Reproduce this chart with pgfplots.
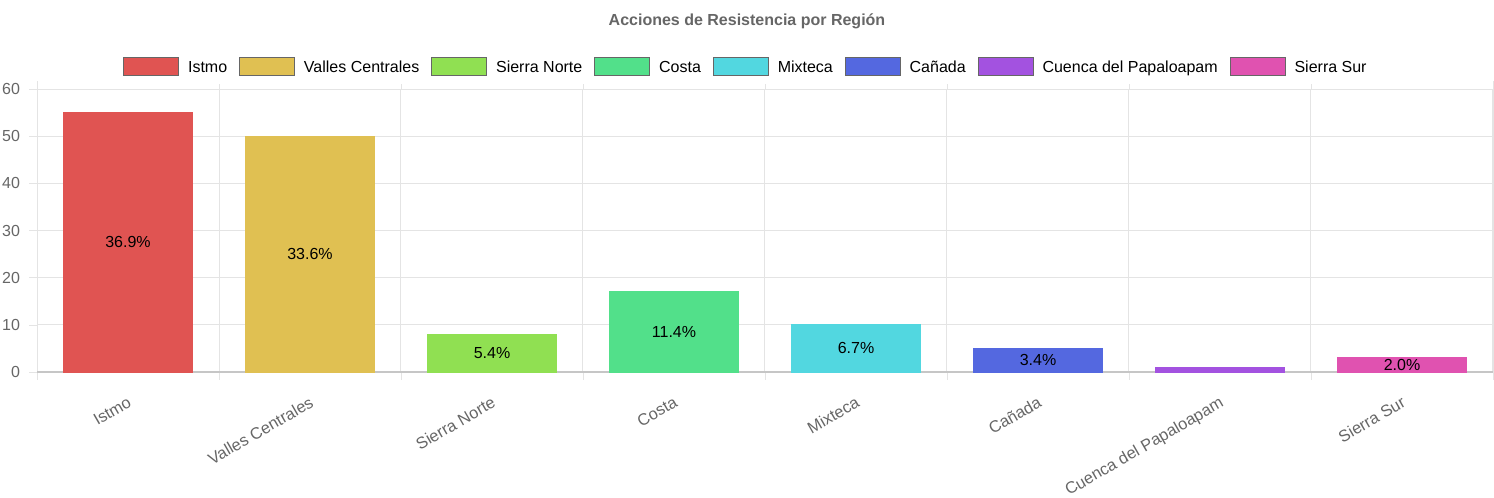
\documentclass[border=0pt]{standalone}
\usepackage{fontspec}
\setmainfont{Liberation Sans}
\usepackage{pgfplots}
\pgfplotsset{compat=1.18}
\definecolor{cIst}{HTML}{E05452}
\definecolor{cVal}{HTML}{E0C052}
\definecolor{cSN}{HTML}{90E052}
\definecolor{cCos}{HTML}{52E08A}
\definecolor{cMix}{HTML}{52D7E0}
\definecolor{cCan}{HTML}{5468E0}
\definecolor{cCue}{HTML}{A352E0}
\definecolor{cSS}{HTML}{E052B0}
\definecolor{txt}{HTML}{666666}
\definecolor{gridc}{HTML}{E4E4E4}
\begin{document}
\begin{tikzpicture}
\path[use as bounding box] (0,0) rectangle (747pt,249pt);
\node[font=\fontsize{8}{9}\selectfont\bfseries, text=txt] at (373.5pt,238.5pt) {Acciones de Resistencia por Región};
\begin{axis}[
  at={(18.5pt,63pt)}, anchor=south west,
  width=728pt, height=141.5pt, scale only axis,
  xmin=-0.5, xmax=7.5, ymin=0, ymax=60,
  xtick={0,...,7},
  xticklabels={Istmo,Valles Centrales,Sierra Norte,Costa,Mixteca,Cañada,Cuenca del Papaloapam,Sierra Sur},
  minor xtick={-0.5,0.5,...,7.5},
  xminorgrids, ymajorgrids,
  ytick={0,10,...,60},
  major x tick style={draw=none},
  minor x tick style={draw=gridc},
  y tick style={draw=gridc},
  minor tick length=4pt, major tick length=4pt,
  tick align=outside,
  grid style={draw=gridc, line width=0.5pt},
  minor grid style={draw=gridc, line width=0.5pt},
  axis line style={draw=gridc},
  x axis line style={draw=none},
  xticklabel style={rotate=30, anchor=north east, text=txt, font=\fontsize{8.2}{9}\selectfont, yshift=-3pt, xshift=-1pt},
  yticklabel style={text=txt, font=\fontsize{8}{9}\selectfont, xshift=-1pt},
  /pgf/number format/assume math mode=true,
  legend columns=-1,
  legend style={draw=none, at={(0.4876,1.074)}, anchor=center, font=\fontsize{8}{9}\selectfont,
    /tikz/every odd column/.append style={column sep=2.5pt},
    /tikz/every even column/.append style={column sep=4pt}},
  legend image code/.code={\draw[#1, draw=gray!80!black, line width=0.4pt] (0pt,-3.3pt) rectangle (27.5pt,5.7pt);},
  mybar/.style={ybar, bar width=64.5pt, bar shift=0pt},
  clip=false,
]
\draw[gridc!70!gray, line width=0.6pt] (axis cs:-0.5,0) -- (axis cs:7.5,0);
\addplot[mybar, fill=cIst, draw=cIst] coordinates {(0,55)};
\addlegendentry{Istmo}
\addplot[mybar, fill=cVal, draw=cVal] coordinates {(1,50)};
\addlegendentry{Valles Centrales}
\addplot[mybar, fill=cSN, draw=cSN] coordinates {(2,8)};
\addlegendentry{Sierra Norte}
\addplot[mybar, fill=cCos, draw=cCos] coordinates {(3,17)};
\addlegendentry{Costa}
\addplot[mybar, fill=cMix, draw=cMix] coordinates {(4,10)};
\addlegendentry{Mixteca}
\addplot[mybar, fill=cCan, draw=cCan] coordinates {(5,5)};
\addlegendentry{Cañada}
\addplot[mybar, fill=cCue, draw=cCue] coordinates {(6,1)};
\addlegendentry{Cuenca del Papaloapam}
\addplot[mybar, fill=cSS, draw=cSS] coordinates {(7,3)};
\addlegendentry{Sierra Sur}
\addplot[forget plot, draw=none, mark=none,
  point meta=explicit symbolic, nodes near coords,
  nodes near coords style={anchor=center, font=\fontsize{8}{9}\selectfont, text=black}]
  coordinates {(0,27.5) [36.9\%] (1,25) [33.6\%] (2,4) [5.4\%] (3,8.5) [11.4\%] (4,5) [6.7\%] (5,2.5) [3.4\%] (7,1.5) [2.0\%]};
\end{axis}
\end{tikzpicture}
\end{document}
